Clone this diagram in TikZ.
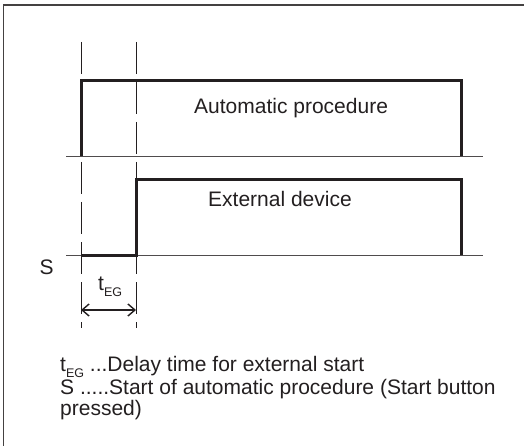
\documentclass[tikz,border=0pt]{standalone}
\usepackage{fontspec}
\setmainfont{Liberation Sans}
\usetikzlibrary{arrows.meta}
\definecolor{ink}{HTML}{231F20}
\newcommand{\subEG}{\raisebox{-6.5pt}{\fontsize{12.5}{12.5}\selectfont EG}}
\tikzset{
  lbl/.style={anchor=base west, inner sep=0pt, text=ink, font=\fontsize{21}{24}\selectfont},
  pulse/.style={draw=ink, line width=3pt, line join=miter},
  axis/.style={draw=ink!80, line width=0.9pt},
  guide/.style={draw=ink, line width=0.9pt, dash pattern=on 32pt off 8pt},
  frameline/.style={draw=ink!85, line width=1.6pt},
  dim/.style={draw=ink, line width=1.2pt, {Straight Barb[length=7pt,width=12pt,line width=1.4pt]}-{Straight Barb[length=7pt,width=12pt,line width=1.4pt]}}
}
\begin{document}
\begin{tikzpicture}[x=1pt, y=-1pt]
\useasboundingbox (0,0) rectangle (524,446);
% frame
\coordinate (fbl) at (3.5,450);
\coordinate (ftl) at (3.5,5);
\coordinate (ftr) at (530,5);
\draw[frameline] (fbl) -- (ftl) -- (ftr);
% guide lines
\coordinate (g1t) at (81,42);
\coordinate (g1b) at (81,328);
\coordinate (g2t) at (136,42);
\coordinate (g2b) at (136,328);
\draw[guide] (g1t) -- (g1b);
\draw[guide] (g2t) -- (g2b);
% axes
\coordinate (a1l) at (66,156);
\coordinate (a1r) at (483,156);
\coordinate (a2l) at (66,255);
\coordinate (a2r) at (483,255);
\draw[axis] (a1l) -- (a1r);
\draw[axis] (a2l) -- (a2r);
% top pulse
\coordinate (p1a) at (81,156);
\coordinate (p1b) at (81,81);
\coordinate (p1c) at (461,81);
\coordinate (p1d) at (461,156);
\draw[pulse] (p1a) -- (p1b) -- (p1c) -- (p1d);
% bottom pulse
\coordinate (p2a) at (81,255);
\coordinate (p2b) at (136,255);
\coordinate (p2c) at (136,180);
\coordinate (p2d) at (461,180);
\coordinate (p2e) at (461,255);
\draw[pulse] (p2a) -- (p2b) -- (p2c) -- (p2d) -- (p2e);
% labels
\node[lbl] (auto) at (194,114) {Automatic procedure};
\node[lbl] (ext) at (208,207) {External device};
\node[lbl] (s) at (39.5,274) {S};
\node[lbl] (teg) at (98,290) {t\subEG};
% dimension arrow
\coordinate (d1) at (81,310);
\coordinate (d2) at (136,310);
\draw[dim] (d1) -- (d2);
% legend
\node[lbl] (leg1) at (60,371) {t\subEG\ ...Delay time for external start};
\node[lbl] (leg2) at (60,394) {S .....Start of automatic procedure (Start button};
\node[lbl] (leg3) at (60,415) {pressed)};
\end{tikzpicture}
\end{document}
